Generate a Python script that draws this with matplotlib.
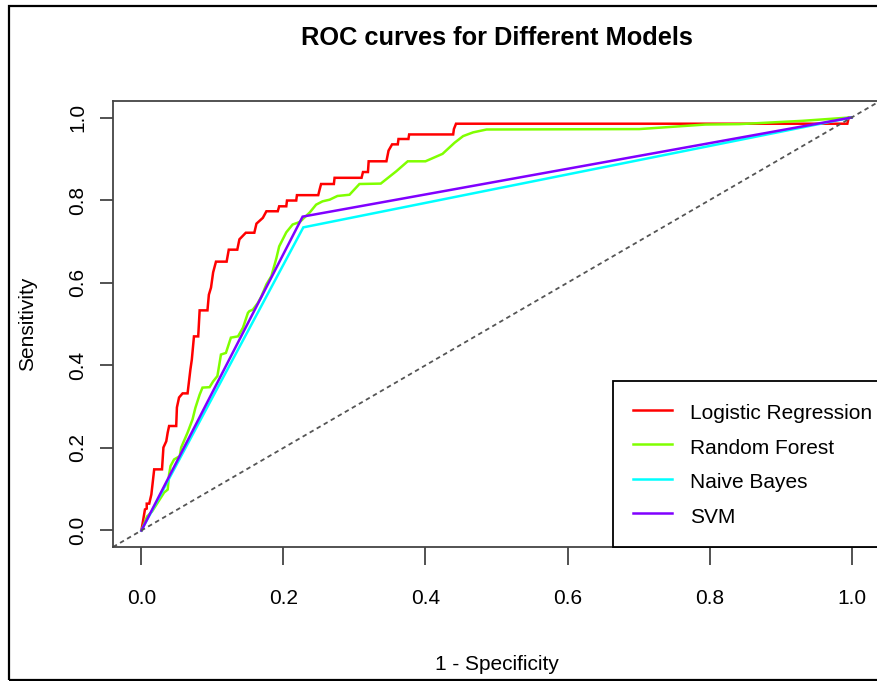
import matplotlib
matplotlib.use("Agg")
import matplotlib.pyplot as plt
from matplotlib.patches import Rectangle

# ---------------- data ----------------
lr_fpr = [0.000, 0.005, 0.0075, 0.0075, 0.011, 0.014, 0.018, 0.029, 0.031, 0.035,
          0.037, 0.039, 0.049, 0.050, 0.053, 0.058, 0.065, 0.069, 0.071, 0.074,
          0.080, 0.082, 0.093, 0.095, 0.098, 0.101, 0.105, 0.120, 0.123, 0.135,
          0.138, 0.147, 0.159, 0.162, 0.171, 0.176, 0.192, 0.194, 0.204, 0.205,
          0.218, 0.219, 0.249, 0.251, 0.253, 0.271, 0.272, 0.310, 0.312, 0.319,
          0.320, 0.345, 0.348, 0.353, 0.361, 0.362, 0.376, 0.377, 0.439, 0.440,
          0.443, 0.994, 0.996, 1.000]
lr_tpr = [0.000, 0.051, 0.053, 0.065, 0.065, 0.087, 0.148, 0.148, 0.201, 0.216,
          0.237, 0.253, 0.253, 0.298, 0.322, 0.332, 0.332, 0.390, 0.414, 0.470,
          0.470, 0.533, 0.533, 0.571, 0.588, 0.625, 0.651, 0.651, 0.680, 0.680,
          0.705, 0.721, 0.721, 0.743, 0.757, 0.773, 0.773, 0.785, 0.785, 0.799,
          0.799, 0.812, 0.812, 0.826, 0.839, 0.839, 0.854, 0.854, 0.868, 0.868,
          0.894, 0.894, 0.920, 0.935, 0.935, 0.948, 0.948, 0.959, 0.959, 0.972,
          0.985, 0.985, 1.000, 1.000]

rf_fpr = [0.000, 0.008, 0.015, 0.032, 0.037, 0.039, 0.041, 0.046, 0.054, 0.056,
          0.065, 0.072, 0.076, 0.082, 0.086, 0.096, 0.101, 0.107, 0.112, 0.119,
          0.126, 0.136, 0.143, 0.150, 0.152, 0.157, 0.164, 0.169, 0.176, 0.183,
          0.190, 0.194, 0.204, 0.213, 0.223, 0.237, 0.246, 0.255, 0.265, 0.276,
          0.293, 0.307, 0.337, 0.359, 0.375, 0.400, 0.424, 0.441, 0.453, 0.467,
          0.486, 0.701, 0.794, 0.842, 0.931, 0.997, 1.000]
rf_tpr = [0.000, 0.034, 0.046, 0.092, 0.099, 0.136, 0.156, 0.172, 0.180, 0.201,
          0.237, 0.269, 0.297, 0.329, 0.346, 0.347, 0.361, 0.374, 0.426, 0.430,
          0.467, 0.470, 0.491, 0.527, 0.531, 0.535, 0.551, 0.567, 0.596, 0.616,
          0.659, 0.688, 0.722, 0.741, 0.747, 0.770, 0.789, 0.797, 0.801, 0.810,
          0.813, 0.839, 0.840, 0.870, 0.894, 0.894, 0.912, 0.939, 0.955, 0.964,
          0.971, 0.972, 0.983, 0.984, 0.992, 1.000, 1.000]

nb_fpr = [0.0, 0.228, 1.0]
nb_tpr = [0.0, 0.734, 1.0]

svm_fpr = [0.0, 0.227, 1.0]
svm_tpr = [0.0, 0.760, 1.0]

model_names = ["Logistic Regression", "Random Forest", "Naive Bayes", "SVM"]
model_colors = ["#FF0000", "#80FF00", "#00FFFF", "#8000FF"]
x_ticks = [0.0, 0.2, 0.4, 0.6, 0.8, 1.0]
y_ticks = [0.0, 0.2, 0.4, 0.6, 0.8, 1.0]
tick_labels = ["0.0", "0.2", "0.4", "0.6", "0.8", "1.0"]

# ---------------- style ----------------
plt.rcParams["font.family"] = ["Liberation Sans", "DejaVu Sans"]
fs = 15
tfs = 18.3

W, H = 877, 681
fig = plt.figure(figsize=(W / 100, H / 100), dpi=100)

# outer frame
fig.patches.append(Rectangle((9 / W, 1 / H), 1.2, (680 - 6) / H, transform=fig.transFigure,
                             fill=False, edgecolor="black", linewidth=1.6, zorder=0))

left, right, top, bottom = 113, 880, 101, 547
ax = fig.add_axes([left / W, 1 - bottom / H, (right - left) / W, (bottom - top) / H])
ax.set_xlim(-0.04, 1.04)
ax.set_ylim(-0.04, 1.04)

curves = [(lr_fpr, lr_tpr), (rf_fpr, rf_tpr), (nb_fpr, nb_tpr), (svm_fpr, svm_tpr)]
handles = []
for (fx, ty), name, col in zip(curves, model_names, model_colors):
    h, = ax.plot(fx, ty, color=col, lw=1.8, label=name, solid_joinstyle="miter")
    handles.append(h)

ax.axline((0, 0), (1, 1), color="#555555", lw=1.3, linestyle=(0, (2.5, 2.0)))

for s in ax.spines.values():
    s.set_color("#444444")
    s.set_linewidth(1.3)

ax.set_xticks(x_ticks)
ax.set_xticklabels(tick_labels, fontsize=fs)
ax.set_yticks(y_ticks)
ax.set_yticklabels(tick_labels, fontsize=fs, rotation=90, va="center")
ax.tick_params(axis="x", length=13, width=1.3, color="#444444", pad=17)
ax.tick_params(axis="y", length=9.5, width=1.3, color="#444444", pad=9)

ax.set_title("ROC curves for Different Models", fontsize=tfs, fontweight="bold",
             y=(bottom - 38) / (bottom - top), va="center", pad=0)

ax.set_xlabel("1 - Specificity", fontsize=fs)
ax.xaxis.set_label_coords(0.5, (bottom - 665) / (bottom - top))
ax.xaxis.label.set_va("center")
ax.set_ylabel("Sensitivity", fontsize=fs)
ax.yaxis.set_label_coords((28 - left) / (right - left), 0.5)
ax.yaxis.label.set_va("center")
ax.yaxis.label.set_ha("center")

leg = ax.legend(handles, model_names, loc="lower right",
                bbox_to_anchor=((892 - left) / (right - left), 0.0),
                borderaxespad=0, fancybox=False, framealpha=1, edgecolor="black",
                fontsize=fs, handlelength=1.87, handletextpad=0.86, labelspacing=0.54,
                handleheight=1.34, borderpad=0.95)
leg.get_frame().set_linewidth(1.3)
for lh in leg.get_lines():
    lh.set_linewidth(1.8)

fig.savefig("out.png", dpi=100)
